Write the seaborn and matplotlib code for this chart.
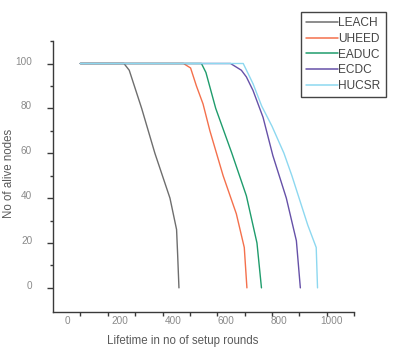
import numpy as np
import pandas as pd
import matplotlib
matplotlib.use("Agg")
import matplotlib.pyplot as plt
import matplotlib.transforms as mtransforms
import seaborn as sns

# ---- data ----
leach_x = [50, 215, 235, 282, 332, 389, 414, 418, 423]
leach_y = [100, 100, 97, 80, 60, 40, 26, 15, 0]

uheed_x = [50, 440, 467, 489, 514, 540, 590, 640, 670, 680]
uheed_y = [100, 100, 98, 90, 82, 70, 50, 33, 18, 0]

eaduc_x = [50, 508, 525, 562, 623, 678, 718, 735]
eaduc_y = [100, 100, 96, 80, 60, 41, 20, 0]

ecdc_x = [50, 618, 659, 678, 703, 741, 778, 829, 867, 882]
ecdc_y = [100, 100, 97, 94, 88, 76, 59, 40, 21, 0]

hucsr_x = [50, 666, 703, 736, 775, 820, 850, 880, 910, 942, 947]
hucsr_y = [100, 100, 91, 81, 72, 60, 50, 39, 28, 18, 0]

series = ["LEACH", "UHEED", "EADUC", "ECDC", "HUCSR"]
colors = ["#6e6e6e", "#f4704c", "#1f9c6c", "#6651a8", "#8dd8f0"]
xticks = [0, 200, 400, 600, 800, 1000]
yticks = [0, 20, 40, 60, 80, 100]

frames = []
for name, xs, ys in zip(series,
                        [leach_x, uheed_x, eaduc_x, ecdc_x, hucsr_x],
                        [leach_y, uheed_y, eaduc_y, ecdc_y, hucsr_y]):
    frames.append(pd.DataFrame({"x": xs, "y": ys, "series": name}))
df = pd.concat(frames, ignore_index=True)

sns.set_style("white")
plt.rcParams["font.family"] = ["Liberation Sans", "DejaVu Sans"]

fig = plt.figure(figsize=(4.02, 3.54), dpi=100)
ax = fig.add_axes([0.132, 0.119, 0.749, 0.765])

sns.lineplot(data=df, x="x", y="y", hue="series", hue_order=series,
             palette=dict(zip(series, colors)), sort=False, estimator=None,
             linewidth=1.0, ax=ax, legend=False)

ax.set_xlim(-53, 1085)
ax.set_ylim(-10.7, 110)

for s in ["top", "right"]:
    ax.spines[s].set_visible(False)
for s in ["left", "bottom"]:
    ax.spines[s].set_color("#3a3a3a")
    ax.spines[s].set_linewidth(1.0)

# x: labels without marks, marks at minor positions
ax.set_xticks(xticks)
ax.set_xticklabels([str(t) for t in xticks])
ax.set_xticks(list(-53 + 103.5 * np.arange(1, 12)), minor=True)
ax.tick_params(axis="x", which="major", length=0, pad=3, labelsize=7.2,
               labelcolor="#8a8a8a")
ax.tick_params(axis="x", which="minor", length=3, width=1.0, color="#3a3a3a",
               direction="out", bottom=True)

# y
ax.set_yticks(yticks)
ax.set_yticklabels([str(t) for t in yticks])
ax.set_yticks([10, 30, 50, 70, 90, 110], minor=True)
ax.tick_params(axis="y", which="major", length=4, width=1.0, color="#3a3a3a",
               pad=11, labelsize=7.2, labelcolor="#8a8a8a", left=True)
ax.tick_params(axis="y", which="minor", length=2.5, width=1.0, color="#3a3a3a",
               left=True)
offset = mtransforms.ScaledTranslation(0, 3 / 100, fig.dpi_scale_trans)
for lbl in ax.get_yticklabels():
    lbl.set_transform(lbl.get_transform() + offset)

ax.set_xlabel("Lifetime in no of setup rounds", fontsize=8.3, color="#5a5a5a")
ax.set_ylabel("No of alive nodes", fontsize=8.3, color="#5a5a5a")
ax.xaxis.set_label_coords(0.43, -0.085)
ax.yaxis.set_label_coords(-0.125, 0.513)

handles = [plt.Line2D([], [], color=c, lw=1.1) for c in colors]
leg = fig.legend(handles, series, loc="upper left",
                 bbox_to_anchor=(0.749, 0.966), frameon=True, fancybox=False,
                 edgecolor="#444444", framealpha=1, fontsize=8.6,
                 handlelength=2.6, handletextpad=0.05, labelspacing=0.3,
                 borderpad=0.45, borderaxespad=0)
leg.get_frame().set_linewidth(1.0)
for t in leg.get_texts():
    t.set_color("#444444")

fig.savefig("out.png", dpi=100)
